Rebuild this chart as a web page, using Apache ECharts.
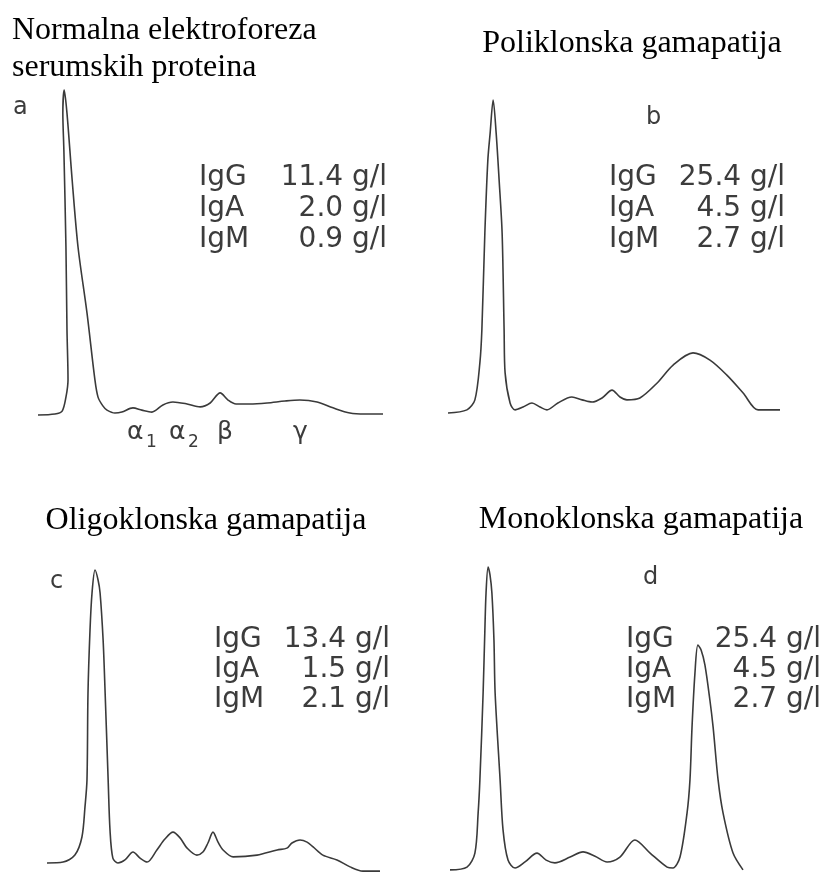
<!DOCTYPE html>
<html>
<head>
<meta charset="utf-8">
<script src="https://cdn.jsdelivr.net/npm/echarts@6/dist/echarts.min.js"></script>
<style>html,body{margin:0;padding:0;background:#fff}#c{width:823px;height:872px}</style>
</head>
<body>
<div id="c"></div>
<script>
// Panel titles
var titles = ['Normalna elektroforeza', 'serumskih proteina', 'Poliklonska gamapatija', 'Oligoklonska gamapatija', 'Monoklonska gamapatija'];
var panelLetters = ['a', 'b', 'c', 'd'];
var igNames = ['IgG', 'IgA', 'IgM'];
var igValuesA = ['11.4 g/l', '2.0 g/l', '0.9 g/l'];
var igValuesB = ['25.4 g/l', '4.5 g/l', '2.7 g/l'];
var igValuesC = ['13.4 g/l', '1.5 g/l', '2.1 g/l'];
var igValuesD = ['25.4 g/l', '4.5 g/l', '2.7 g/l'];
var fractionSymbols = ['α', 'α', 'β', 'γ'];
var fractionSubs = ['1', '2', '', ''];

// Relative mobility (0-100) and relative density (0-100)
var mobilityA = [0,4.9,7.0,8.1,8.7,8.4,8.1,7.5,7.2,7.6,8.4,9.9,11.6,14.2,16.5,17.4,18.8,20.0,22.3,24.3,27.5,30.1,33.0,36.2,39.1,43.2,47.0,49.9,52.8,55.1,57.4,61.4,66.4,71.6,75.9,80.9,85.5,90.4,94.8,100];
var densityA  = [0,0.3,1.2,5.5,10.8,26.2,51.7,81.5,92.9,100,92.9,72.3,51.7,31.4,10.8,5.5,2.8,1.5,0.6,0.9,2.2,1.5,0.9,3.1,4.0,3.4,2.5,3.7,6.8,4.6,3.4,3.4,3.7,4.3,4.6,4.0,2.2,0.6,0.3,0.3];

var mobilityB = [0,5.7,8.1,9.6,10.2,11.1,12.0,12.7,13.6,14.5,15.4,16.3,16.9,17.2,18.7,20.2,22.6,25.3,27.7,29.8,33.1,37.3,40.4,43.4,46.4,49.4,51.8,53.9,57.8,63.0,67.8,73.8,78.9,84.0,88.9,93.4,100];
var densityB  = [0,1.0,4.2,16.0,26.5,57.5,80.8,89.5,100,89.5,74.4,57.5,26.5,12.8,3.2,1.0,1.9,3.2,1.9,1.0,3.2,5.1,4.2,3.5,4.8,7.3,5.1,4.2,4.8,9.6,15.3,19.2,16.9,12.1,6.4,1.0,1.0];

var mobilityC = [0,4.8,8.3,10.4,11.3,11.9,12.2,12.8,13.4,14.3,15.2,15.8,16.7,17.3,18.2,18.75,19.6,21.1,23.2,25.6,27.7,29.8,32.7,35.1,37.5,39.6,41.7,44.6,46.4,47.9,49.4,50.9,52.4,55.4,62.5,68.5,71.4,72.9,75.3,77.4,79.2,82.1,86.3,90.2,94.0,99.1];
var densityC  = [3.0,3.3,5.6,11.6,21.5,30.5,59.3,80.1,92.4,100,96.7,92.4,76.8,59.3,30.5,13.9,4.6,3.0,4.0,6.6,4.6,3.3,7.3,10.9,13.2,11.3,7.9,5.6,6.6,9.6,13.2,9.9,7.3,5.0,5.6,7.3,7.9,9.6,10.6,9.9,8.3,5.6,4.0,1.7,0.3,0.3];

var mobilityD = [0,5.8,8.5,9.6,10.2,11.3,11.9,12.3,13.0,13.65,14.3,15.0,15.4,17.1,18.1,19.8,22.2,25.6,29.7,32.8,35.8,41.0,45.4,49.5,53.6,58.0,63.1,68.3,74.1,76.1,78.5,80.9,81.9,82.6,83.6,84.6,85.7,87.0,88.7,89.8,91.5,93.2,96.6,100];
var densityD  = [0.7,1.6,6.2,19.3,30.2,58.7,79.3,91.5,100,97.4,91.5,76.1,58.7,30.2,13.8,3.9,1.3,3.3,6.2,3.9,3.0,4.9,6.6,5.2,3.3,4.9,10.5,6.2,1.6,1.3,4.9,19.3,30.2,47.5,65.2,74.4,72.8,67.9,56.4,47.5,30.2,19.3,6.2,0.7];

function zip(xs, ys) { return xs.map(function (x, i) { return [x, ys[i]]; }); }

var grids = [
  { left: 38, top: 90, width: 345, height: 325 },
  { left: 448, top: 100, width: 332, height: 313 },
  { left: 47, top: 570, width: 336, height: 302 },
  { left: 450, top: 567, width: 293, height: 305 }
];
var seriesData = [zip(mobilityA, densityA), zip(mobilityB, densityB), zip(mobilityC, densityC), zip(mobilityD, densityD)];

var lineColor = '#3a3a3a';
var textColor = '#3c3c3c';
var sans = '"DejaVu Sans", sans-serif';
var serif = '"Liberation Serif", "Times New Roman", serif';

var graphics = [];
function txt(x, y, text, size, font, align, color) {
  graphics.push({ type: 'text', x: x, y: y, silent: true,
    style: { text: text, fontSize: size, fontFamily: font, fill: color, align: align || 'left', verticalAlign: 'middle' } });
}
// Titles
txt(12, 31, titles[0], 32, serif, 'left', '#000');
txt(12, 68, titles[1], 32, serif, 'left', '#000');
txt(632, 44, titles[2], 32, serif, 'center', '#000');
txt(206, 521, titles[3], 32, serif, 'center', '#000');
txt(641, 520, titles[4], 32, serif, 'center', '#000');
// Panel letters
txt(13, 108, panelLetters[0], 24, sans, 'left', textColor);
txt(646, 118, panelLetters[1], 24, sans, 'left', textColor);
txt(50, 582, panelLetters[2], 24, sans, 'left', textColor);
txt(643, 578, panelLetters[3], 24, sans, 'left', textColor);
// Ig blocks
var blocks = [
  { vals: igValuesA, lx: 199, rx: 387, mid: [178, 209, 240] },
  { vals: igValuesB, lx: 609, rx: 785, mid: [178, 209, 240] },
  { vals: igValuesC, lx: 214, rx: 390, mid: [640, 670, 700] },
  { vals: igValuesD, lx: 626, rx: 821, mid: [640, 670, 700] }
];
blocks.forEach(function (b) {
  for (var i = 0; i < 3; i++) {
    txt(b.lx, b.mid[i], igNames[i], 28, sans, 'left', textColor);
    txt(b.rx, b.mid[i], b.vals[i], 28, sans, 'right', textColor);
  }
});
// Fraction labels (panel a)
var fracX = [127, 169, 217, 293];
var subX = [146, 188];
fractionSymbols.forEach(function (f, i) {
  txt(fracX[i], 432, f, 25, sans, 'left', textColor);
  if (fractionSubs[i]) txt(subX[i], 443, fractionSubs[i], 17, sans, 'left', textColor);
});

var option = {
  backgroundColor: '#fff',
  animation: false,
  grid: grids,
  xAxis: grids.map(function (g, i) { return { type: 'value', gridIndex: i, min: 0, max: 100, show: false }; }),
  yAxis: grids.map(function (g, i) { return { type: 'value', gridIndex: i, min: 0, max: 100, show: false }; }),
  series: seriesData.map(function (d, i) {
    return { type: 'line', xAxisIndex: i, yAxisIndex: i, data: d, smooth: 0.3, symbol: 'none', clip: false,
      lineStyle: { color: lineColor, width: 1.6 } };
  }),
  graphic: graphics
};
var chart = echarts.init(document.getElementById('c'), null, { renderer: 'canvas' });
chart.setOption(option);
</script>
</body>
</html>
